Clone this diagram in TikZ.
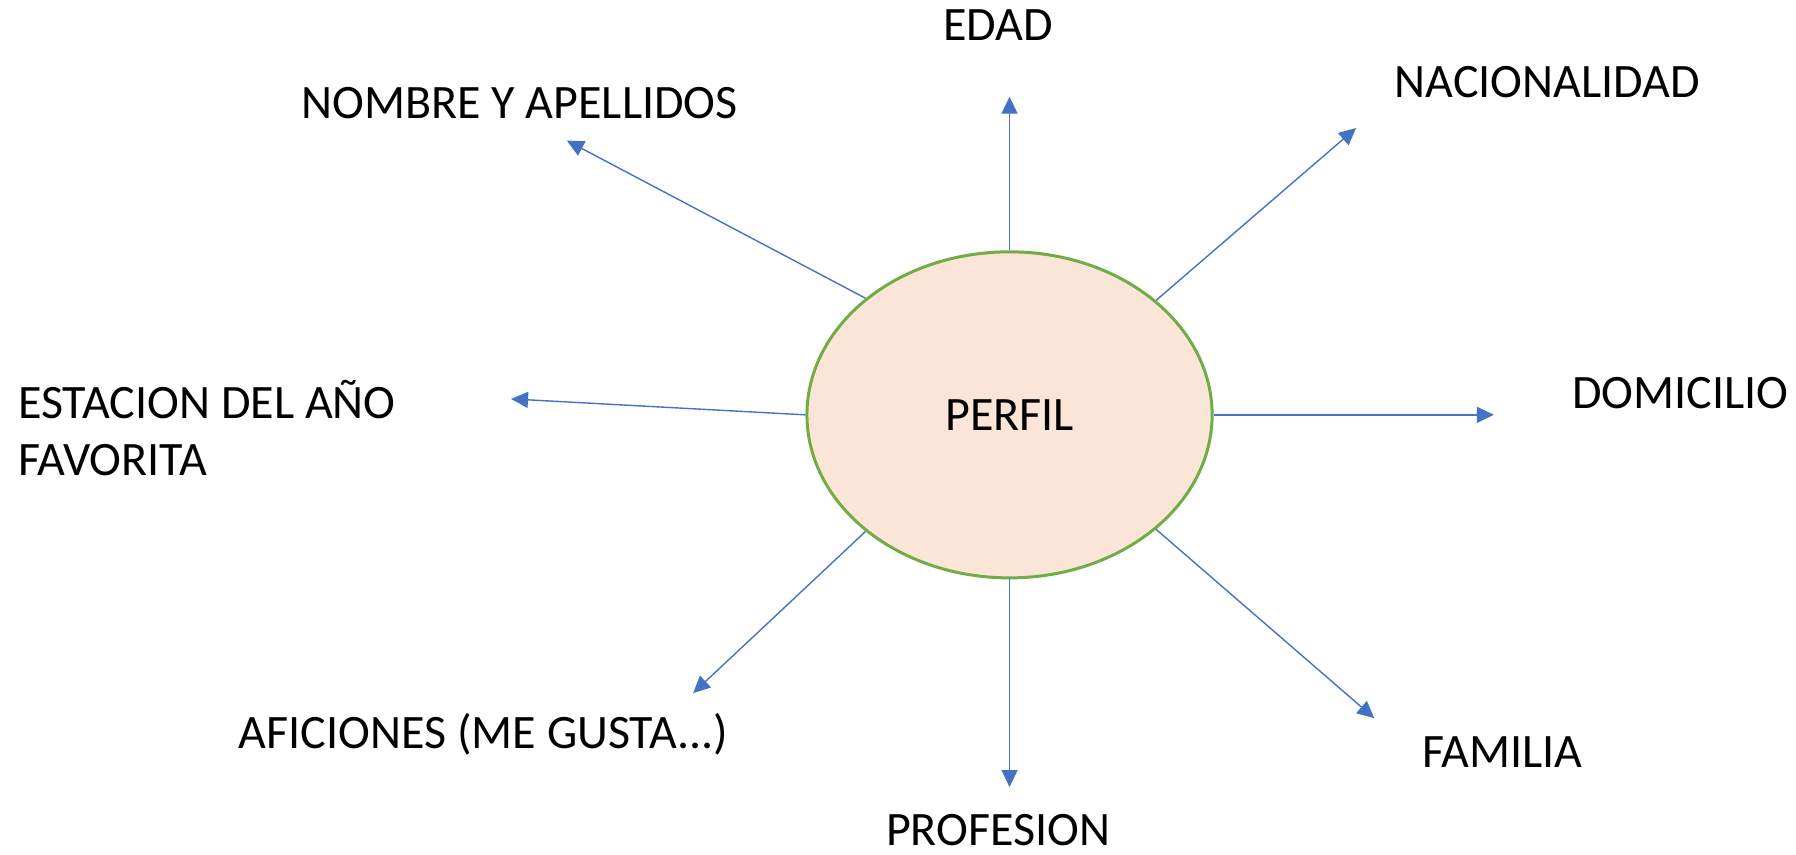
\documentclass[tikz,border=0pt]{standalone}
\usepackage{fontspec}
\setmainfont{Carlito}
\usetikzlibrary{shapes.geometric,arrows.meta}
\definecolor{arrowblue}{HTML}{4472C4}
\definecolor{perfilfill}{HTML}{FBE5D6}
\definecolor{perfilline}{HTML}{70AD47}
\tikzset{
    perfil/.style = {ellipse, draw=perfilline, line width=1.5pt, fill=perfilfill,
        minimum width=7.12cm, minimum height=5.73cm, inner sep=0pt, font=\fontsize{24}{28.5}\selectfont},
    label/.style = {inner sep=0pt, font=\fontsize{24}{28.5}\selectfont},
    flecha/.style = {draw=arrowblue, line width=0.7pt, -{Triangle[length=8.5pt,width=8pt]}, color=arrowblue}
}

\begin{document}
\begin{tikzpicture}
    \useasboundingbox (-17.74,-7.72) rectangle (13.82,7.29);

    \node[perfil] (P) at (0,0) {PERFIL};

    \coordinate(EDADn) at (0,5.59);
    \coordinate(NACn) at (6.09,5.04);
    \coordinate(DOMn) at (8.51,0);
    \coordinate(FAMn) at (6.41,-5.33);
    \coordinate(PROn) at (0,-6.54);
    \coordinate(AFIn) at (-5.56,-4.89);
    \coordinate(ESTn) at (-8.76,0.28);
    \coordinate(NOMn) at (-7.78,4.82);

    \node[label] (EDAD) at (-0.20,6.85) {EDAD};
    \node[label] (NAC) at (9.45,5.85) {NACIONALIDAD};
    \node[label] (DOM) at (11.79,0.39) {DOMICILIO};
    \node[label] (FAM) at (8.66,-5.92) {FAMILIA};
    \node[label] (PRO) at (-0.20,-7.29) {PROFESION};
    \node[label] (AFI) at (-9.24,-5.62) {AFICIONES (ME GUSTA...)};
    \node[label, anchor=west, align=left] (EST) at (-17.43,-0.24) {ESTACION DEL AÑO\\FAVORITA};
    \node[label] (NOM) at (-8.61,5.48) {NOMBRE Y APELLIDOS};

    \draw [flecha] (P.north)--(EDADn);
    \draw [flecha] (P.38.7)--(NACn);
    \draw [flecha] (P.east)--(DOMn);
    \draw [flecha] (P.-38.7)--(FAMn);
    \draw [flecha] (P.south)--(PROn);
    \draw [flecha] (P.219)--(AFIn);
    \draw [flecha] (P.west)--(ESTn);
    \draw [flecha] (P.141)--(NOMn);

\end{tikzpicture}
\end{document}
